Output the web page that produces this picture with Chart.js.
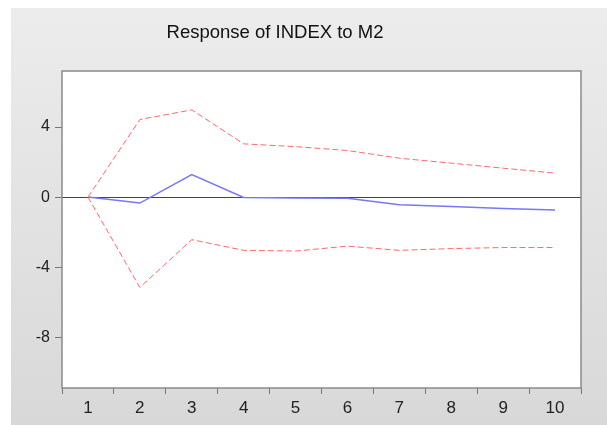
<!DOCTYPE html>
<html>
<head>
<meta charset="utf-8">
<script src="https://cdn.jsdelivr.net/npm/chart.js@4/dist/chart.umd.min.js"></script>
<style>
  html, body { margin: 0; padding: 0; background: #fff; }
  #wrap { width: 607px; height: 425px; position: relative; }
</style>
</head>
<body>
<div id="wrap"><canvas id="irf" width="607" height="425"></canvas></div>
<script>
const periods = ["1", "2", "3", "4", "5", "6", "7", "8", "9", "10"];
const response = [0, -0.34, 1.28, -0.02, -0.05, -0.07, -0.43, -0.53, -0.65, -0.74];
const upperBand = [0, 4.43, 4.98, 3.04, 2.88, 2.66, 2.22, 1.94, 1.65, 1.37];
const lowerBand = [0, -5.16, -2.43, -3.04, -3.08, -2.8, -3.04, -2.94, -2.88, -2.88];
const yTicks = [-8, -4, 0, 4];
const chartTitle = "Response of INDEX to M2";

// gray panel, white plot area, border and title
const panelBg = {
    id: "panelBg",
    beforeDraw(chart) {
        const { ctx, chartArea: a } = chart;
        ctx.save();
        const g = ctx.createLinearGradient(0, 8, 0, 425);
        g.addColorStop(0, "#ececec");
        g.addColorStop(1, "#d8d8d8");
        ctx.fillStyle = g;
        ctx.fillRect(11, 8, 596, 417);
        ctx.fillStyle = "#ffffff";
        ctx.fillRect(a.left, a.top, a.right - a.left, a.bottom - a.top);
        ctx.restore();
    },
    afterDraw(chart) {
        const { ctx, chartArea: a } = chart;
        ctx.save();
        ctx.strokeStyle = "#8a8a8a";
        ctx.lineWidth = 1.5;
        ctx.strokeRect(a.left, a.top, a.right - a.left, a.bottom - a.top);
        ctx.font = "18.5px 'Liberation Sans', Arial, sans-serif";
        ctx.fillStyle = "#111";
        ctx.textAlign = "center";
        ctx.textBaseline = "middle";
        ctx.fillText(chartTitle, 275, 33);
        ctx.restore();
    }
};

new Chart(document.getElementById("irf"), {
    type: "line",
    data: {
        labels: periods,
        datasets: [
            {
                data: upperBand,
                borderColor: "#ff6a6a",
                borderWidth: 1,
                borderDash: [6, 3],
                pointRadius: 0,
                tension: 0
            },
            {
                data: lowerBand,
                borderColor: "#ff6a6a",
                borderWidth: 1,
                borderDash: [6, 3],
                pointRadius: 0,
                tension: 0
            },
            {
                data: response,
                borderColor: "#7676ff",
                borderWidth: 1.5,
                pointRadius: 0,
                tension: 0
            }
        ]
    },
    options: {
        responsive: false,
        animation: false,
        layout: { padding: { top: 71, left: 0, right: 26, bottom: 0 } },
        plugins: {
            legend: { display: false },
            tooltip: { enabled: false },
            title: { display: false }
        },
        scales: {
            x: {
                offset: true,
                grid: {
                    offset: true,
                    drawOnChartArea: false,
                    tickLength: 6,
                    tickColor: "#777"
                },
                border: { display: false },
                ticks: {
                    color: "#222",
                    padding: 4,
                    maxRotation: 0,
                    font: { family: "Liberation Sans, Arial, sans-serif", size: 17 }
                },
                afterFit(scale) { scale.height = 37; }
            },
            y: {
                min: -10.9,
                max: 7.2,
                afterBuildTicks(scale) {
                    scale.ticks = yTicks.map(v => ({ value: v }));
                },
                grid: {
                    color: ctx => ctx.tick && ctx.tick.value === 0 ? "#444" : "rgba(0,0,0,0)",
                    lineWidth: 1,
                    tickLength: 7,
                    tickColor: "#777"
                },
                border: { display: false },
                ticks: {
                    color: "#222",
                    padding: 5,
                    font: { family: "Liberation Sans, Arial, sans-serif", size: 16 }
                },
                afterFit(scale) { scale.width = 62; }
            }
        }
    },
    plugins: [panelBg]
});
</script>
</body>
</html>
